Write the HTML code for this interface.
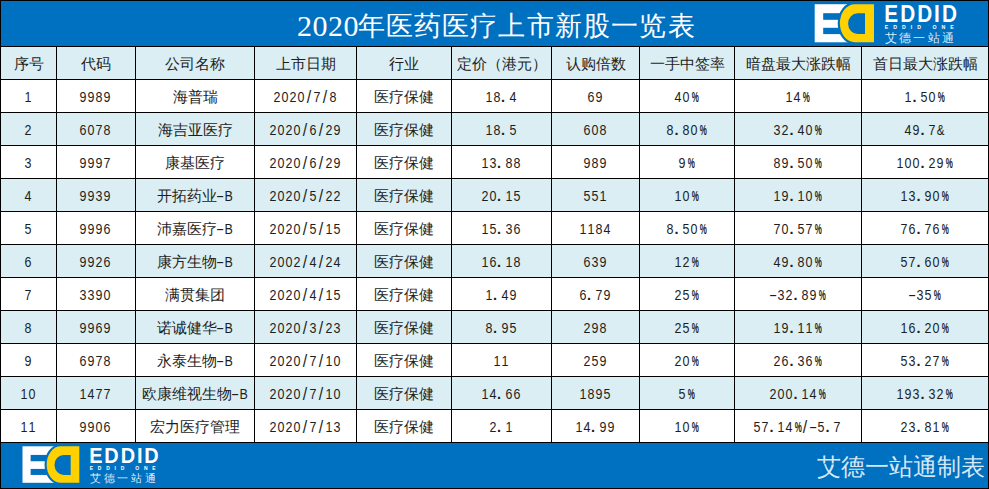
<!DOCTYPE html>
<html><head><meta charset="utf-8">
<style>
html,body{margin:0;padding:0;}
body{width:989px;height:489px;position:relative;overflow:hidden;background:#fff;font-family:"Liberation Sans",sans-serif;}
.bar{position:absolute;left:0;width:989px;background:#0070C0;}
.hl{position:absolute;left:0;width:989px;height:1px;background:#000;}
.vl{position:absolute;top:46px;width:1px;height:397px;background:#000;}
.alt{position:absolute;left:0;width:989px;height:32px;background:#DAEEF3;}
.c{position:absolute;height:32px;line-height:34px;text-align:center;font-size:15px;color:#1e1e1e;white-space:nowrap;}
.k{display:inline-block;width:8px;text-align:center;font-size:14.5px;vertical-align:top;position:relative;left:-1px;}
.n{transform:scaleX(0.86);}
.p{transform:scaleX(0.55);left:-1px;font-weight:bold;}
.m{transform:scaleX(0.8);}
.d{left:-2.5px;font-weight:bold;}
.h{transform:scaleX(1.7);}
.s{transform:scale(1.1,1.25);}
.ttl{position:absolute;left:297px;top:9px;white-space:nowrap;font-family:"Liberation Serif",serif;font-size:28px;line-height:34px;color:#fff;}
.td{font-size:30px;letter-spacing:0.5px;}
.tc{font-size:27px;letter-spacing:1.2px;position:relative;left:-1.5px;top:-1px;}
.ft{position:absolute;left:800px;top:452px;width:185px;text-align:right;font-size:24px;line-height:30px;color:rgba(255,255,255,0.85);}
</style></head><body>
<div class="bar" style="top:0;height:46px"></div>
<div class="bar" style="top:443px;height:46px"></div>
<div class="alt" style="top:47px"></div>
<div class="alt" style="top:113px"></div>
<div class="alt" style="top:179px"></div>
<div class="alt" style="top:245px"></div>
<div class="alt" style="top:311px"></div>
<div class="alt" style="top:377px"></div>
<div class="hl" style="top:46px"></div>
<div class="hl" style="top:79px"></div>
<div class="hl" style="top:112px"></div>
<div class="hl" style="top:145px"></div>
<div class="hl" style="top:178px"></div>
<div class="hl" style="top:211px"></div>
<div class="hl" style="top:244px"></div>
<div class="hl" style="top:277px"></div>
<div class="hl" style="top:310px"></div>
<div class="hl" style="top:343px"></div>
<div class="hl" style="top:376px"></div>
<div class="hl" style="top:409px"></div>
<div class="hl" style="top:442px"></div>
<div class="vl" style="left:56px"></div>
<div class="vl" style="left:135px"></div>
<div class="vl" style="left:254px"></div>
<div class="vl" style="left:356px"></div>
<div class="vl" style="left:451px"></div>
<div class="vl" style="left:551px"></div>
<div class="vl" style="left:639px"></div>
<div class="vl" style="left:734px"></div>
<div class="vl" style="left:861px"></div>
<div class="c" style="left:1px;top:47px;width:55px">序号</div>
<div class="c" style="left:57px;top:47px;width:78px">代码</div>
<div class="c" style="left:136px;top:47px;width:118px">公司名称</div>
<div class="c" style="left:255px;top:47px;width:101px">上市日期</div>
<div class="c" style="left:357px;top:47px;width:94px">行业</div>
<div class="c" style="left:452px;top:47px;width:99px">定价（港元）</div>
<div class="c" style="left:552px;top:47px;width:87px">认购倍数</div>
<div class="c" style="left:640px;top:47px;width:94px">一手中签率</div>
<div class="c" style="left:735px;top:47px;width:126px">暗盘最大涨跌幅</div>
<div class="c" style="left:862px;top:47px;width:126px">首日最大涨跌幅</div>
<div class="c" style="left:1px;top:80px;width:55px"><span class="k n">1</span></div>
<div class="c" style="left:57px;top:80px;width:78px"><span class="k n">9</span><span class="k n">9</span><span class="k n">8</span><span class="k n">9</span></div>
<div class="c" style="left:136px;top:80px;width:118px">海普瑞</div>
<div class="c" style="left:255px;top:80px;width:101px"><span class="k n">2</span><span class="k n">0</span><span class="k n">2</span><span class="k n">0</span><span class="k s">/</span><span class="k n">7</span><span class="k s">/</span><span class="k n">8</span></div>
<div class="c" style="left:357px;top:80px;width:94px">医疗保健</div>
<div class="c" style="left:452px;top:80px;width:99px"><span class="k n">1</span><span class="k n">8</span><span class="k d">.</span><span class="k n">4</span></div>
<div class="c" style="left:552px;top:80px;width:87px"><span class="k n">6</span><span class="k n">9</span></div>
<div class="c" style="left:640px;top:80px;width:94px"><span class="k n">4</span><span class="k n">0</span><span class="k p">%</span></div>
<div class="c" style="left:735px;top:80px;width:126px"><span class="k n">1</span><span class="k n">4</span><span class="k p">%</span></div>
<div class="c" style="left:862px;top:80px;width:126px"><span class="k n">1</span><span class="k d">.</span><span class="k n">5</span><span class="k n">0</span><span class="k p">%</span></div>
<div class="c" style="left:1px;top:113px;width:55px"><span class="k n">2</span></div>
<div class="c" style="left:57px;top:113px;width:78px"><span class="k n">6</span><span class="k n">0</span><span class="k n">7</span><span class="k n">8</span></div>
<div class="c" style="left:136px;top:113px;width:118px">海吉亚医疗</div>
<div class="c" style="left:255px;top:113px;width:101px"><span class="k n">2</span><span class="k n">0</span><span class="k n">2</span><span class="k n">0</span><span class="k s">/</span><span class="k n">6</span><span class="k s">/</span><span class="k n">2</span><span class="k n">9</span></div>
<div class="c" style="left:357px;top:113px;width:94px">医疗保健</div>
<div class="c" style="left:452px;top:113px;width:99px"><span class="k n">1</span><span class="k n">8</span><span class="k d">.</span><span class="k n">5</span></div>
<div class="c" style="left:552px;top:113px;width:87px"><span class="k n">6</span><span class="k n">0</span><span class="k n">8</span></div>
<div class="c" style="left:640px;top:113px;width:94px"><span class="k n">8</span><span class="k d">.</span><span class="k n">8</span><span class="k n">0</span><span class="k p">%</span></div>
<div class="c" style="left:735px;top:113px;width:126px"><span class="k n">3</span><span class="k n">2</span><span class="k d">.</span><span class="k n">4</span><span class="k n">0</span><span class="k p">%</span></div>
<div class="c" style="left:862px;top:113px;width:126px"><span class="k n">4</span><span class="k n">9</span><span class="k d">.</span><span class="k n">7</span><span class="k m">&amp;</span></div>
<div class="c" style="left:1px;top:146px;width:55px"><span class="k n">3</span></div>
<div class="c" style="left:57px;top:146px;width:78px"><span class="k n">9</span><span class="k n">9</span><span class="k n">9</span><span class="k n">7</span></div>
<div class="c" style="left:136px;top:146px;width:118px">康基医疗</div>
<div class="c" style="left:255px;top:146px;width:101px"><span class="k n">2</span><span class="k n">0</span><span class="k n">2</span><span class="k n">0</span><span class="k s">/</span><span class="k n">6</span><span class="k s">/</span><span class="k n">2</span><span class="k n">9</span></div>
<div class="c" style="left:357px;top:146px;width:94px">医疗保健</div>
<div class="c" style="left:452px;top:146px;width:99px"><span class="k n">1</span><span class="k n">3</span><span class="k d">.</span><span class="k n">8</span><span class="k n">8</span></div>
<div class="c" style="left:552px;top:146px;width:87px"><span class="k n">9</span><span class="k n">8</span><span class="k n">9</span></div>
<div class="c" style="left:640px;top:146px;width:94px"><span class="k n">9</span><span class="k p">%</span></div>
<div class="c" style="left:735px;top:146px;width:126px"><span class="k n">8</span><span class="k n">9</span><span class="k d">.</span><span class="k n">5</span><span class="k n">0</span><span class="k p">%</span></div>
<div class="c" style="left:862px;top:146px;width:126px"><span class="k n">1</span><span class="k n">0</span><span class="k n">0</span><span class="k d">.</span><span class="k n">2</span><span class="k n">9</span><span class="k p">%</span></div>
<div class="c" style="left:1px;top:179px;width:55px"><span class="k n">4</span></div>
<div class="c" style="left:57px;top:179px;width:78px"><span class="k n">9</span><span class="k n">9</span><span class="k n">3</span><span class="k n">9</span></div>
<div class="c" style="left:136px;top:179px;width:118px">开拓药业<span class="k h">-</span><span class="k n">B</span></div>
<div class="c" style="left:255px;top:179px;width:101px"><span class="k n">2</span><span class="k n">0</span><span class="k n">2</span><span class="k n">0</span><span class="k s">/</span><span class="k n">5</span><span class="k s">/</span><span class="k n">2</span><span class="k n">2</span></div>
<div class="c" style="left:357px;top:179px;width:94px">医疗保健</div>
<div class="c" style="left:452px;top:179px;width:99px"><span class="k n">2</span><span class="k n">0</span><span class="k d">.</span><span class="k n">1</span><span class="k n">5</span></div>
<div class="c" style="left:552px;top:179px;width:87px"><span class="k n">5</span><span class="k n">5</span><span class="k n">1</span></div>
<div class="c" style="left:640px;top:179px;width:94px"><span class="k n">1</span><span class="k n">0</span><span class="k p">%</span></div>
<div class="c" style="left:735px;top:179px;width:126px"><span class="k n">1</span><span class="k n">9</span><span class="k d">.</span><span class="k n">1</span><span class="k n">0</span><span class="k p">%</span></div>
<div class="c" style="left:862px;top:179px;width:126px"><span class="k n">1</span><span class="k n">3</span><span class="k d">.</span><span class="k n">9</span><span class="k n">0</span><span class="k p">%</span></div>
<div class="c" style="left:1px;top:212px;width:55px"><span class="k n">5</span></div>
<div class="c" style="left:57px;top:212px;width:78px"><span class="k n">9</span><span class="k n">9</span><span class="k n">9</span><span class="k n">6</span></div>
<div class="c" style="left:136px;top:212px;width:118px">沛嘉医疗<span class="k h">-</span><span class="k n">B</span></div>
<div class="c" style="left:255px;top:212px;width:101px"><span class="k n">2</span><span class="k n">0</span><span class="k n">2</span><span class="k n">0</span><span class="k s">/</span><span class="k n">5</span><span class="k s">/</span><span class="k n">1</span><span class="k n">5</span></div>
<div class="c" style="left:357px;top:212px;width:94px">医疗保健</div>
<div class="c" style="left:452px;top:212px;width:99px"><span class="k n">1</span><span class="k n">5</span><span class="k d">.</span><span class="k n">3</span><span class="k n">6</span></div>
<div class="c" style="left:552px;top:212px;width:87px"><span class="k n">1</span><span class="k n">1</span><span class="k n">8</span><span class="k n">4</span></div>
<div class="c" style="left:640px;top:212px;width:94px"><span class="k n">8</span><span class="k d">.</span><span class="k n">5</span><span class="k n">0</span><span class="k p">%</span></div>
<div class="c" style="left:735px;top:212px;width:126px"><span class="k n">7</span><span class="k n">0</span><span class="k d">.</span><span class="k n">5</span><span class="k n">7</span><span class="k p">%</span></div>
<div class="c" style="left:862px;top:212px;width:126px"><span class="k n">7</span><span class="k n">6</span><span class="k d">.</span><span class="k n">7</span><span class="k n">6</span><span class="k p">%</span></div>
<div class="c" style="left:1px;top:245px;width:55px"><span class="k n">6</span></div>
<div class="c" style="left:57px;top:245px;width:78px"><span class="k n">9</span><span class="k n">9</span><span class="k n">2</span><span class="k n">6</span></div>
<div class="c" style="left:136px;top:245px;width:118px">康方生物<span class="k h">-</span><span class="k n">B</span></div>
<div class="c" style="left:255px;top:245px;width:101px"><span class="k n">2</span><span class="k n">0</span><span class="k n">0</span><span class="k n">2</span><span class="k s">/</span><span class="k n">4</span><span class="k s">/</span><span class="k n">2</span><span class="k n">4</span></div>
<div class="c" style="left:357px;top:245px;width:94px">医疗保健</div>
<div class="c" style="left:452px;top:245px;width:99px"><span class="k n">1</span><span class="k n">6</span><span class="k d">.</span><span class="k n">1</span><span class="k n">8</span></div>
<div class="c" style="left:552px;top:245px;width:87px"><span class="k n">6</span><span class="k n">3</span><span class="k n">9</span></div>
<div class="c" style="left:640px;top:245px;width:94px"><span class="k n">1</span><span class="k n">2</span><span class="k p">%</span></div>
<div class="c" style="left:735px;top:245px;width:126px"><span class="k n">4</span><span class="k n">9</span><span class="k d">.</span><span class="k n">8</span><span class="k n">0</span><span class="k p">%</span></div>
<div class="c" style="left:862px;top:245px;width:126px"><span class="k n">5</span><span class="k n">7</span><span class="k d">.</span><span class="k n">6</span><span class="k n">0</span><span class="k p">%</span></div>
<div class="c" style="left:1px;top:278px;width:55px"><span class="k n">7</span></div>
<div class="c" style="left:57px;top:278px;width:78px"><span class="k n">3</span><span class="k n">3</span><span class="k n">9</span><span class="k n">0</span></div>
<div class="c" style="left:136px;top:278px;width:118px">满贯集团</div>
<div class="c" style="left:255px;top:278px;width:101px"><span class="k n">2</span><span class="k n">0</span><span class="k n">2</span><span class="k n">0</span><span class="k s">/</span><span class="k n">4</span><span class="k s">/</span><span class="k n">1</span><span class="k n">5</span></div>
<div class="c" style="left:357px;top:278px;width:94px">医疗保健</div>
<div class="c" style="left:452px;top:278px;width:99px"><span class="k n">1</span><span class="k d">.</span><span class="k n">4</span><span class="k n">9</span></div>
<div class="c" style="left:552px;top:278px;width:87px"><span class="k n">6</span><span class="k d">.</span><span class="k n">7</span><span class="k n">9</span></div>
<div class="c" style="left:640px;top:278px;width:94px"><span class="k n">2</span><span class="k n">5</span><span class="k p">%</span></div>
<div class="c" style="left:735px;top:278px;width:126px"><span class="k h">-</span><span class="k n">3</span><span class="k n">2</span><span class="k d">.</span><span class="k n">8</span><span class="k n">9</span><span class="k p">%</span></div>
<div class="c" style="left:862px;top:278px;width:126px"><span class="k h">-</span><span class="k n">3</span><span class="k n">5</span><span class="k p">%</span></div>
<div class="c" style="left:1px;top:311px;width:55px"><span class="k n">8</span></div>
<div class="c" style="left:57px;top:311px;width:78px"><span class="k n">9</span><span class="k n">9</span><span class="k n">6</span><span class="k n">9</span></div>
<div class="c" style="left:136px;top:311px;width:118px">诺诚健华<span class="k h">-</span><span class="k n">B</span></div>
<div class="c" style="left:255px;top:311px;width:101px"><span class="k n">2</span><span class="k n">0</span><span class="k n">2</span><span class="k n">0</span><span class="k s">/</span><span class="k n">3</span><span class="k s">/</span><span class="k n">2</span><span class="k n">3</span></div>
<div class="c" style="left:357px;top:311px;width:94px">医疗保健</div>
<div class="c" style="left:452px;top:311px;width:99px"><span class="k n">8</span><span class="k d">.</span><span class="k n">9</span><span class="k n">5</span></div>
<div class="c" style="left:552px;top:311px;width:87px"><span class="k n">2</span><span class="k n">9</span><span class="k n">8</span></div>
<div class="c" style="left:640px;top:311px;width:94px"><span class="k n">2</span><span class="k n">5</span><span class="k p">%</span></div>
<div class="c" style="left:735px;top:311px;width:126px"><span class="k n">1</span><span class="k n">9</span><span class="k d">.</span><span class="k n">1</span><span class="k n">1</span><span class="k p">%</span></div>
<div class="c" style="left:862px;top:311px;width:126px"><span class="k n">1</span><span class="k n">6</span><span class="k d">.</span><span class="k n">2</span><span class="k n">0</span><span class="k p">%</span></div>
<div class="c" style="left:1px;top:344px;width:55px"><span class="k n">9</span></div>
<div class="c" style="left:57px;top:344px;width:78px"><span class="k n">6</span><span class="k n">9</span><span class="k n">7</span><span class="k n">8</span></div>
<div class="c" style="left:136px;top:344px;width:118px">永泰生物<span class="k h">-</span><span class="k n">B</span></div>
<div class="c" style="left:255px;top:344px;width:101px"><span class="k n">2</span><span class="k n">0</span><span class="k n">2</span><span class="k n">0</span><span class="k s">/</span><span class="k n">7</span><span class="k s">/</span><span class="k n">1</span><span class="k n">0</span></div>
<div class="c" style="left:357px;top:344px;width:94px">医疗保健</div>
<div class="c" style="left:452px;top:344px;width:99px"><span class="k n">1</span><span class="k n">1</span></div>
<div class="c" style="left:552px;top:344px;width:87px"><span class="k n">2</span><span class="k n">5</span><span class="k n">9</span></div>
<div class="c" style="left:640px;top:344px;width:94px"><span class="k n">2</span><span class="k n">0</span><span class="k p">%</span></div>
<div class="c" style="left:735px;top:344px;width:126px"><span class="k n">2</span><span class="k n">6</span><span class="k d">.</span><span class="k n">3</span><span class="k n">6</span><span class="k p">%</span></div>
<div class="c" style="left:862px;top:344px;width:126px"><span class="k n">5</span><span class="k n">3</span><span class="k d">.</span><span class="k n">2</span><span class="k n">7</span><span class="k p">%</span></div>
<div class="c" style="left:1px;top:377px;width:55px"><span class="k n">1</span><span class="k n">0</span></div>
<div class="c" style="left:57px;top:377px;width:78px"><span class="k n">1</span><span class="k n">4</span><span class="k n">7</span><span class="k n">7</span></div>
<div class="c" style="left:136px;top:377px;width:118px">欧康维视生物<span class="k h">-</span><span class="k n">B</span></div>
<div class="c" style="left:255px;top:377px;width:101px"><span class="k n">2</span><span class="k n">0</span><span class="k n">2</span><span class="k n">0</span><span class="k s">/</span><span class="k n">7</span><span class="k s">/</span><span class="k n">1</span><span class="k n">0</span></div>
<div class="c" style="left:357px;top:377px;width:94px">医疗保健</div>
<div class="c" style="left:452px;top:377px;width:99px"><span class="k n">1</span><span class="k n">4</span><span class="k d">.</span><span class="k n">6</span><span class="k n">6</span></div>
<div class="c" style="left:552px;top:377px;width:87px"><span class="k n">1</span><span class="k n">8</span><span class="k n">9</span><span class="k n">5</span></div>
<div class="c" style="left:640px;top:377px;width:94px"><span class="k n">5</span><span class="k p">%</span></div>
<div class="c" style="left:735px;top:377px;width:126px"><span class="k n">2</span><span class="k n">0</span><span class="k n">0</span><span class="k d">.</span><span class="k n">1</span><span class="k n">4</span><span class="k p">%</span></div>
<div class="c" style="left:862px;top:377px;width:126px"><span class="k n">1</span><span class="k n">9</span><span class="k n">3</span><span class="k d">.</span><span class="k n">3</span><span class="k n">2</span><span class="k p">%</span></div>
<div class="c" style="left:1px;top:410px;width:55px"><span class="k n">1</span><span class="k n">1</span></div>
<div class="c" style="left:57px;top:410px;width:78px"><span class="k n">9</span><span class="k n">9</span><span class="k n">0</span><span class="k n">6</span></div>
<div class="c" style="left:136px;top:410px;width:118px">宏力医疗管理</div>
<div class="c" style="left:255px;top:410px;width:101px"><span class="k n">2</span><span class="k n">0</span><span class="k n">2</span><span class="k n">0</span><span class="k s">/</span><span class="k n">7</span><span class="k s">/</span><span class="k n">1</span><span class="k n">3</span></div>
<div class="c" style="left:357px;top:410px;width:94px">医疗保健</div>
<div class="c" style="left:452px;top:410px;width:99px"><span class="k n">2</span><span class="k d">.</span><span class="k n">1</span></div>
<div class="c" style="left:552px;top:410px;width:87px"><span class="k n">1</span><span class="k n">4</span><span class="k d">.</span><span class="k n">9</span><span class="k n">9</span></div>
<div class="c" style="left:640px;top:410px;width:94px"><span class="k n">1</span><span class="k n">0</span><span class="k p">%</span></div>
<div class="c" style="left:735px;top:410px;width:126px"><span class="k n">5</span><span class="k n">7</span><span class="k d">.</span><span class="k n">1</span><span class="k n">4</span><span class="k p">%</span><span class="k s">/</span><span class="k h">-</span><span class="k n">5</span><span class="k d">.</span><span class="k n">7</span></div>
<div class="c" style="left:862px;top:410px;width:126px"><span class="k n">2</span><span class="k n">3</span><span class="k d">.</span><span class="k n">8</span><span class="k n">1</span><span class="k p">%</span></div>
<div style="position:absolute;left:0;top:0;width:987px;height:487px;border:1px solid #000;"></div>
<div class="ttl"><span class="td">2020</span><span class="tc">年医药医疗上市新股一览表</span></div>
<div class="ft">艾德一站通制表</div>
<svg style="position:absolute;left:0;top:0" width="989" height="489" viewBox="0 0 989 489"><g transform="translate(814.7 4.2) scale(1)">
<rect x="0" y="0" width="40" height="38.1" fill="#fff"/>
<rect x="8.5" y="9" width="34" height="6.6" fill="#0070C0"/>
<rect x="8.5" y="23.6" width="34" height="6.3" fill="#0070C0"/>
<path d="M40 0H59.3V38.1H40A14.8 19.05 0 0 1 40 0Z" fill="#FFD100" stroke="#0070C0" stroke-width="4.4" paint-order="stroke"/>
<path d="M43 9H50.3V29.9H43A9.6 10.45 0 0 1 43 9Z" fill="#0070C0"/>
<text transform="translate(69.6 17.6) scale(0.88 1)" x="0" y="0" font-family="Liberation Sans" font-weight="bold" font-size="23.6" fill="#fff" textLength="82.5" lengthAdjust="spacing">EDDID</text>
<text x="70.1" y="24.8" font-family="Liberation Sans" font-weight="bold" font-size="5.2" fill="#fff" textLength="68.9" lengthAdjust="spacing">EDDID ONE</text>
<text x="70.1" y="38" font-family="Liberation Sans" font-size="12" fill="#fff" fill-opacity="0.88" textLength="69.4" lengthAdjust="spacing">艾德一站通</text>
</g><g transform="translate(22.5 446.3) scale(0.958)">
<rect x="0" y="0" width="40" height="38.1" fill="#fff"/>
<rect x="8.5" y="9" width="34" height="6.6" fill="#0070C0"/>
<rect x="8.5" y="23.6" width="34" height="6.3" fill="#0070C0"/>
<path d="M40 0H59.3V38.1H40A14.8 19.05 0 0 1 40 0Z" fill="#FFD100" stroke="#0070C0" stroke-width="4.4" paint-order="stroke"/>
<path d="M43 9H50.3V29.9H43A9.6 10.45 0 0 1 43 9Z" fill="#0070C0"/>
<text transform="translate(69.6 17.6) scale(0.88 1)" x="0" y="0" font-family="Liberation Sans" font-weight="bold" font-size="23.6" fill="#fff" textLength="82.5" lengthAdjust="spacing">EDDID</text>
<text x="70.1" y="24.8" font-family="Liberation Sans" font-weight="bold" font-size="5.2" fill="#fff" textLength="68.9" lengthAdjust="spacing">EDDID ONE</text>
<text x="70.1" y="36.8" font-family="Liberation Sans" font-size="12" fill="#fff" fill-opacity="0.88" textLength="69.4" lengthAdjust="spacing">艾德一站通</text>
</g></svg>
</body></html>
